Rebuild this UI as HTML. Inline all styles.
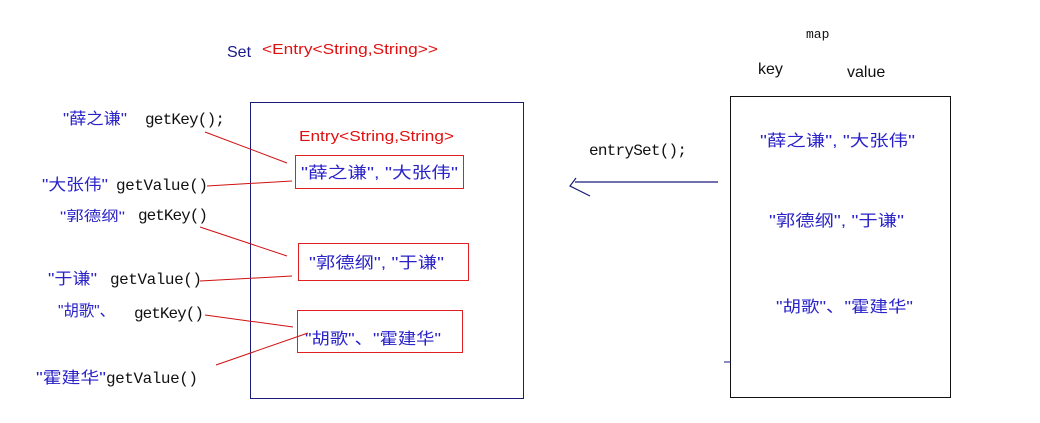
<!DOCTYPE html>
<html><head><meta charset="utf-8"><style>
body{margin:0;background:#fff;width:1040px;height:418px;overflow:hidden}
svg text{font-size:16px}
.b{fill:#2a23c8;font-family:"Liberation Sans","Noto Sans CJK SC",sans-serif}
.m{fill:#111;font-family:"Liberation Mono","DejaVu Sans Mono",monospace}
.s{font-family:"Liberation Sans","Noto Sans CJK SC",sans-serif}
</style></head><body>
<svg width="1040" height="418" xmlns="http://www.w3.org/2000/svg">
<text x="227" y="57" class="s" fill="#1a1a8c">Set</text>
<text x="262" y="54" class="s" fill="#e01010" textLength="176" lengthAdjust="spacingAndGlyphs" style="font-size:15px">&lt;Entry&lt;String,String&gt;&gt;</text>
<text x="806" y="38" class="m" fill="#8a5a5a" style="font-size:13px">map</text>
<text x="758" y="74" class="s" fill="#111">key</text>
<text x="847" y="77" class="s" fill="#111">value</text>
<rect x="250.5" y="102.5" width="273" height="296" fill="none" stroke="#1a1a7a" stroke-width="1"/>
<rect x="730.5" y="96.5" width="220" height="301" fill="none" stroke="#111" stroke-width="1"/>
<line x1="724" y1="362" x2="731" y2="362" stroke="#1a1a7a"/>
<text x="299" y="141" class="s" fill="#e01010" textLength="155" lengthAdjust="spacingAndGlyphs" style="font-size:15px">Entry&lt;String,String&gt;</text>
<rect x="295.5" y="155.5" width="168" height="33" fill="none" stroke="#e02020"/>
<rect x="298.5" y="243.5" width="170" height="37" fill="none" stroke="#e02020"/>
<rect x="297.5" y="310.5" width="165" height="42" fill="none" stroke="#e02020"/>
<text x="301" y="178" class="b" textLength="157" lengthAdjust="spacingAndGlyphs">"薛之谦", "大张伟"</text>
<text x="309" y="268" class="b" textLength="135" lengthAdjust="spacingAndGlyphs">"郭德纲", "于谦"</text>
<text x="305" y="344" class="b" textLength="136" lengthAdjust="spacingAndGlyphs">"胡歌"、"霍建华"</text>
<text x="63" y="124" class="b" textLength="64" lengthAdjust="spacingAndGlyphs">"薛之谦"</text><text x="145" y="124" class="m" textLength="80">getKey();</text>
<text x="42" y="190" class="b" textLength="66" lengthAdjust="spacingAndGlyphs">"大张伟"</text><text x="116" y="190" class="m" textLength="92">getValue()</text>
<text x="60" y="221" class="b" textLength="65" lengthAdjust="spacingAndGlyphs" style="font-size:14px">"郭德纲"</text><text x="138" y="220" class="m" textLength="70">getKey()</text>
<text x="48" y="284" class="b" textLength="49" lengthAdjust="spacingAndGlyphs">"于谦"</text><text x="110" y="284" class="m" textLength="92">getValue()</text>
<text x="58" y="316" class="b" textLength="57" lengthAdjust="spacingAndGlyphs">"胡歌"、</text><text x="134" y="318" class="m" textLength="70">getKey()</text>
<text x="36" y="383" class="b" textLength="70" lengthAdjust="spacingAndGlyphs">"霍建华"</text><text x="106" y="383" class="m" textLength="92">getValue()</text>
<g stroke="#d01010" stroke-width="1" fill="none">
<line x1="205" y1="132" x2="287" y2="163"/>
<line x1="207" y1="186" x2="292" y2="181"/>
<line x1="200" y1="227" x2="287" y2="256"/>
<line x1="200" y1="281" x2="292" y2="276"/>
<line x1="205" y1="315" x2="293" y2="327"/>
<line x1="216" y1="365" x2="308" y2="333"/>
</g>
<text x="589" y="155" class="m" textLength="98">entrySet();</text>
<g stroke="#1a1a7a" stroke-width="1.2" fill="none">
<line x1="718" y1="182" x2="575" y2="182"/>
<polyline points="576,178 570,186 590,196"/>
</g>
<text x="760" y="146" class="b" textLength="155" lengthAdjust="spacingAndGlyphs">"薛之谦", "大张伟"</text>
<text x="769" y="226" class="b" textLength="135" lengthAdjust="spacingAndGlyphs">"郭德纲", "于谦"</text>
<text x="776" y="312" class="b" textLength="137" lengthAdjust="spacingAndGlyphs">"胡歌"、"霍建华"</text>
</svg>
</body></html>
